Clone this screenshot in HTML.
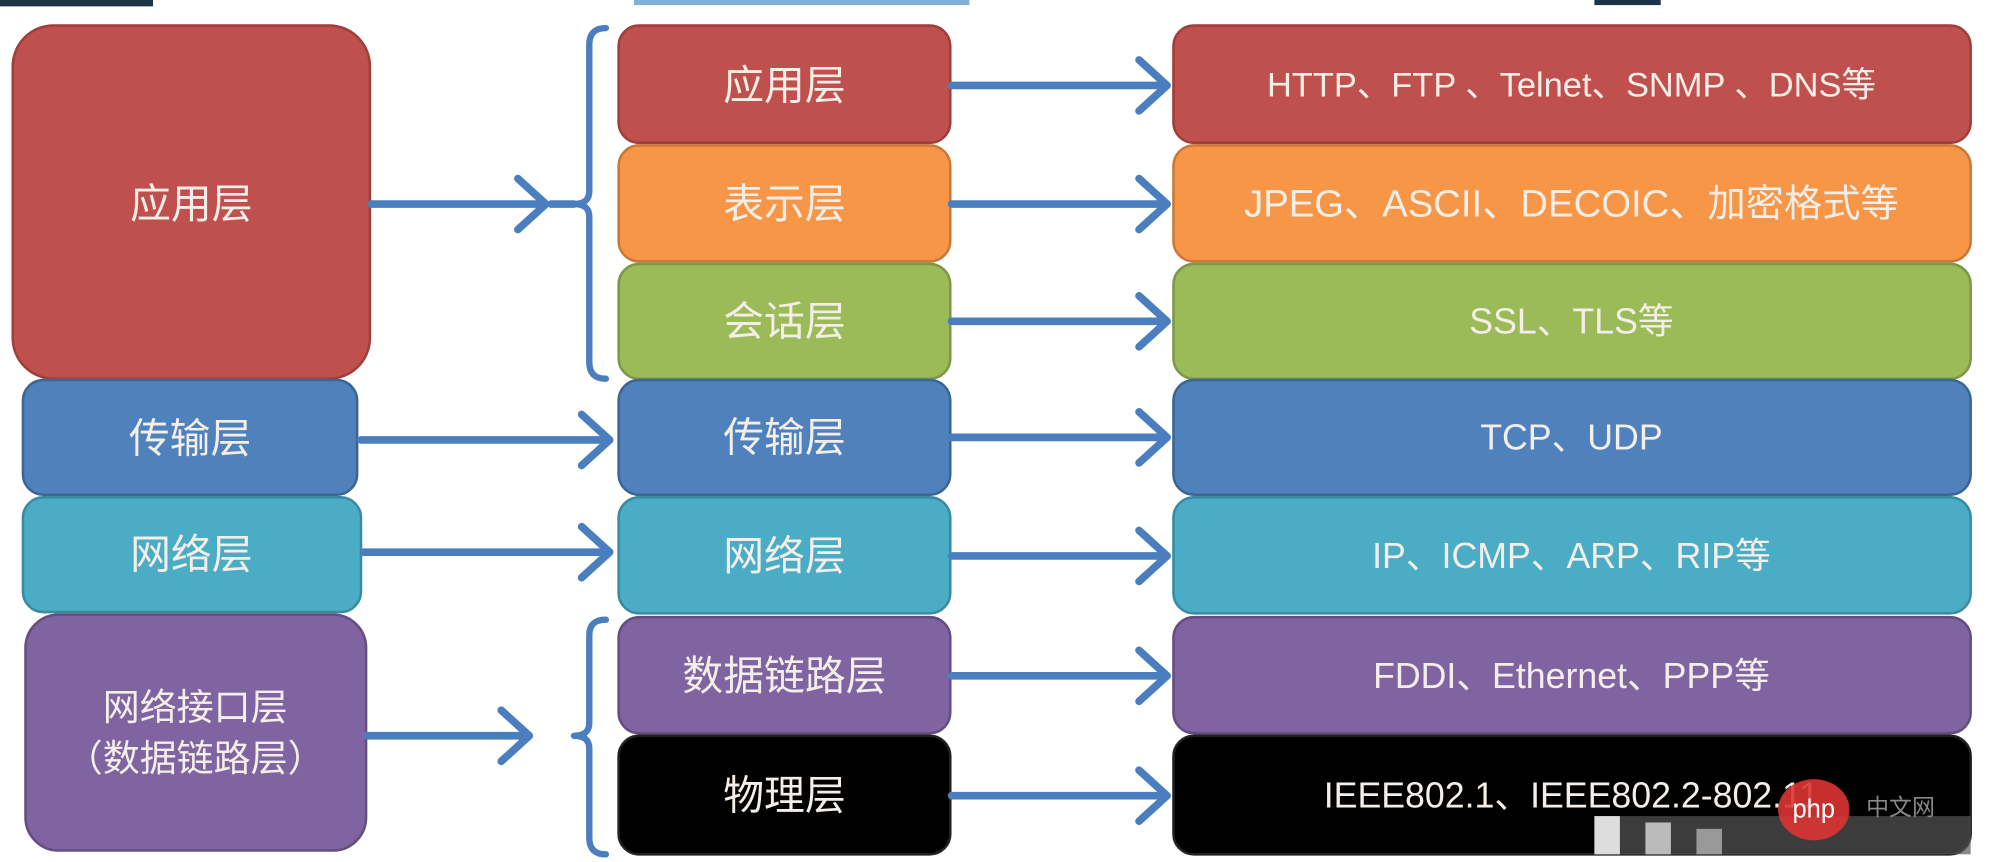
<!DOCTYPE html>
<html><head><meta charset="utf-8"><style>
html,body{margin:0;padding:0;background:#fff;}
svg{display:block}
text{font-family:"Liberation Sans","Noto Sans CJK SC",sans-serif;fill:#f4eee8;text-anchor:middle;dominant-baseline:central}
</style></head><body>
<svg width="2000" height="862" viewBox="0 0 1568 676" preserveAspectRatio="none" xmlns="http://www.w3.org/2000/svg">
<rect x="0" y="0" width="120" height="5" fill="#1f3348"/>
<rect x="497" y="0" width="263" height="4" fill="#7fb2d8"/>
<rect x="1250" y="0" width="52" height="4" fill="#1f3348"/>
<g stroke-width="2">
<rect x="10" y="20" width="280" height="277" rx="32" fill="#c0504d" stroke="#9e3f3c"/>
<rect x="18" y="298" width="262" height="90" rx="16" fill="#4f81bd" stroke="#3c6594"/>
<rect x="18" y="390" width="265" height="90" rx="16" fill="#4bacc6" stroke="#3a8ba1"/>
<rect x="20" y="482" width="267" height="185" rx="26" fill="#8064a2" stroke="#644e80"/>

<rect x="485" y="20" width="260" height="92" rx="16" fill="#c0504d" stroke="#9e3f3c"/>
<rect x="485" y="114" width="260" height="91" rx="16" fill="#f79646" stroke="#c87838"/>
<rect x="485" y="207" width="260" height="90" rx="16" fill="#9bbb59" stroke="#7c9747"/>
<rect x="485" y="298" width="260" height="90" rx="16" fill="#4f81bd" stroke="#3c6594"/>
<rect x="485" y="390" width="260" height="91" rx="16" fill="#4bacc6" stroke="#3a8ba1"/>
<rect x="485" y="484" width="260" height="91" rx="16" fill="#8064a2" stroke="#644e80"/>
<rect x="485" y="577" width="260" height="93" rx="16" fill="#000" stroke="#222"/>

<rect x="920" y="20" width="625" height="92" rx="16" fill="#c0504d" stroke="#9e3f3c"/>
<rect x="920" y="114" width="625" height="91" rx="16" fill="#f79646" stroke="#c87838"/>
<rect x="920" y="207" width="625" height="90" rx="16" fill="#9bbb59" stroke="#7c9747"/>
<rect x="920" y="298" width="625" height="90" rx="16" fill="#4f81bd" stroke="#3c6594"/>
<rect x="920" y="390" width="625" height="91" rx="16" fill="#4bacc6" stroke="#3a8ba1"/>
<rect x="920" y="484" width="625" height="91" rx="16" fill="#8064a2" stroke="#644e80"/>
<rect x="920" y="577" width="625" height="93" rx="16" fill="#000" stroke="#222"/>
</g>
<g fill="none" stroke="#4a7ebf" stroke-width="6" stroke-linecap="round" stroke-linejoin="round">
<path d="M475 22 Q462 22 462 35 L462 150 Q462 160 450 160 Q462 160 462 170 L462 284 Q462 297 475 297" stroke-width="5"/>
<path d="M475 486 Q462 486 462 498 L462 567 Q462 577 450 577 Q462 577 462 587 L462 657 Q462 670 475 670" stroke-width="5"/>
<path d="M291 160 H428 M406 140 L428 160 L406 180"/>
<path d="M432 160 H450"/>
<path d="M283 345 H478 M456 325 L478 345 L456 365"/>
<path d="M285 433 H478 M456 413 L478 433 L456 453"/>
<path d="M288 577 H415 M393 557 L415 577 L393 597"/>
<path d="M746 67 H915 M893 47 L915 67 L893 87"/>
<path d="M746 160 H915 M893 140 L915 160 L893 180"/>
<path d="M746 252 H915 M893 232 L915 252 L893 272"/>
<path d="M746 343 H915 M893 323 L915 343 L893 363"/>
<path d="M746 436 H915 M893 416 L915 436 L893 456"/>
<path d="M746 530 H915 M893 510 L915 530 L893 550"/>
<path d="M746 624 H915 M893 604 L915 624 L893 644"/>
</g>
<g font-size="32">
<text x="150" y="160">应用层</text>
<text x="149" y="344">传输层</text>
<text x="150" y="435">网络层</text>
<text x="153" y="555" font-size="29">网络接口层</text>
<text x="153" y="595" font-size="29">（数据链路层）</text>
<text x="615" y="67">应用层</text>
<text x="615" y="160">表示层</text>
<text x="615" y="252">会话层</text>
<text x="615" y="343">传输层</text>
<text x="615" y="436">网络层</text>
<text x="615" y="530">数据链路层</text>
<text x="615" y="624">物理层</text>
</g>
<g font-size="27">
<text x="1232" y="67">HTTP、FTP 、Telnet、SNMP 、DNS等</text>
<text x="1232" y="160" font-size="30">JPEG、ASCII、DECOIC、加密格式等</text>
<text x="1232" y="252" font-size="28">SSL、TLS等</text>
<text x="1232" y="343" font-size="28">TCP、UDP</text>
<text x="1232" y="436" font-size="28">IP、ICMP、ARP、RIP等</text>
<text x="1232" y="530" font-size="28">FDDI、Ethernet、PPP等</text>
<text x="1232" y="624" font-size="28">IEEE802.1、IEEE802.2-802.11</text>
</g>
<g>
<rect x="1250" y="640" width="295" height="30" fill="#555" opacity="0.7"/>
<rect x="1250" y="640" width="20" height="30" fill="#ddd"/>
<rect x="1290" y="645" width="20" height="25" fill="#bbb"/>
<rect x="1330" y="650" width="20" height="20" fill="#999"/>
<ellipse cx="1422" cy="635" rx="28" ry="24" fill="#d33" opacity="0.9"/>
<text x="1422" y="635" font-size="20" style="fill:#fff">php</text>
<text x="1490" y="633" font-size="18" style="fill:#888">中文网</text>
</g>
</svg>
</body></html>
